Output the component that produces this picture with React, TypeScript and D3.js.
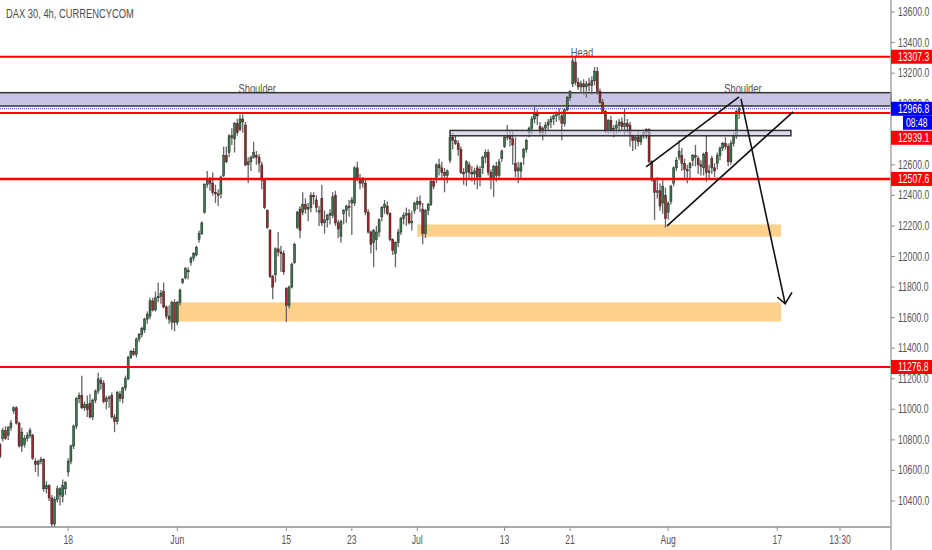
import * as d3 from "d3";

type Bar = [number, number, number, number]; // open, high, low, close

// 4h bars, one array per stretch between two time-axis labels
const barsBefore18: Bar[] = [
  [10770,10780,10680,10690],[10810,10880,10790,10860],[10860,10890,10800,10810],[10830,10890,10800,10880],[10880,10930,10860,10910],
  [10990,11020,10970,11010],[11010,11020,10900,10910],[10910,10920,10750,10760],[10760,10880,10720,10850],[10770,10830,10750,10810],
  [10810,10850,10790,10830],[10830,10880,10810,10860],[10830,10840,10670,10680],[10660,10680,10590,10640],[10640,10670,10560,10660],
  [10660,10690,10640,10670],[10670,10680,10460,10480],[10480,10530,10450,10500],[10500,10510,10400,10420],[10420,10440,10230,10250],
  [10250,10430,10230,10410],[10410,10500,10390,10480],[10440,10490,10370,10480],[10430,10540,10390,10500],[10480,10530,10440,10520],
];
const barsFrom18: Bar[] = [
  [10590,10680,10560,10660],[10660,10770,10640,10760],[10760,10900,10740,10890],[10890,11080,10870,11070],[11070,11110,11040,11090],
  [11090,11220,11000,11010],[11010,11050,10990,11030],[11030,11090,10950,11000],[11040,11100,10940,10950],[10950,11070,10930,11060],
  [11060,11130,11040,11120],[11120,11240,11100,11200],[11190,11210,11130,11170],[11170,11190,11040,11050],[11050,11090,11000,11070],
  [11070,11090,11010,11080],[11090,11110,10940,10950],[10950,10970,10850,10920],[10920,11120,10900,11110],[11100,11120,11050,11070],
  [11070,11150,11040,11140],[11140,11220,11120,11200],[11200,11350,11190,11340],[11340,11390,11330,11380],[11380,11400,11350,11360],
  [11360,11470,11340,11460],[11460,11500,11440,11490],[11490,11540,11470,11530],[11520,11600,11500,11590],[11590,11640,11560,11620],
  [11610,11730,11590,11710],[11710,11730,11640,11650],[11650,11770,11640,11730],[11730,11830,11700,11740],[11740,11780,11690,11760],
  [11770,11830,11660,11670],[11670,11680,11590,11610],[11610,11680,11560,11590],[11570,11710,11520,11700],[11700,11720,11510,11570],
];
const barsFromJun: Bar[] = [
  [11570,11710,11550,11700],[11700,11790,11680,11780],[11830,11860,11820,11850],[11860,11930,11850,11920],[11900,11930,11850,11910],
  [11960,12000,11940,11990],[11990,12030,11970,12020],[12010,12070,12000,12060],[12110,12170,12090,12150],[12150,12230,12140,12220],
  [12290,12480,12280,12470],[12470,12560,12450,12500],[12500,12520,12430,12480],[12480,12550,12400,12420],[12420,12470,12350,12410],
  [12410,12440,12330,12400],[12410,12530,12380,12520],[12530,12720,12520,12660],[12660,12720,12610,12620],[12680,12800,12650,12790],
  [12790,12840,12730,12780],[12770,12880,12680,12870],[12870,12900,12790,12810],[12830,12930,12820,12900],[12900,12930,12810,12880],
  [12860,12880,12590,12600],[12600,12650,12480,12620],[12620,12660,12560,12650],[12650,12750,12640,12680],[12660,12690,12600,12650],
  [12650,12670,12550,12610],[12600,12620,12440,12500],[12500,12510,12310,12320],[12300,12310,12180,12190],[12170,12180,11860,11870],
  [11870,11880,11720,11800],[11880,12060,11830,12050],[12050,12160,12000,12030],[12030,12070,11900,12020],[12020,12040,11880,11900],
];
const barsFrom15: Bar[] = [
  [11790,11800,11570,11680],[11680,11810,11660,11800],[11800,11960,11790,11950],[11960,12090,11950,12080],[12190,12300,12180,12290],
  [12310,12330,12120,12170],[12290,12420,12270,12340],[12340,12380,12280,12310],[12310,12350,12230,12320],[12320,12420,12290,12400],
  [12400,12420,12340,12390],[12370,12400,12290,12320],[12290,12330,12200,12300],[12380,12470,12200,12220],[12220,12300,12150,12240],
  [12240,12280,12190,12270],[12270,12310,12210,12280],[12270,12420,12250,12390],[12400,12430,12200,12220],[12220,12240,12120,12180],
  [12130,12240,12090,12230],[12280,12310,12210,12300],[12300,12340,12220,12330],[12330,12370,12260,12320],
];
const barsFrom23: Bar[] = [
  [12350,12390,12140,12370],[12350,12590,12330,12580],[12580,12620,12490,12510],[12510,12540,12440,12480],[12480,12520,12450,12500],
  [12480,12510,12270,12290],[12290,12310,12150,12160],[12160,12170,12020,12080],[12090,12180,11930,12170],[12110,12200,12040,12160],
  [12160,12250,12130,12240],[12260,12330,12230,12320],[12320,12370,12280,12340],[12330,12360,12270,12280],[12280,12290,12100,12110],
  [12110,12120,12010,12040],[12020,12100,11930,12090],[12090,12180,12060,12160],[12160,12260,12140,12250],[12250,12290,12210,12270],
  [12270,12320,12200,12280],[12280,12310,12210,12220],[12220,12300,12170,12230],[12300,12360,12280,12350],
];
const barsFromJul: Bar[] = [
  [12340,12390,12310,12360],[12360,12400,12290,12340],[12310,12350,12080,12150],[12150,12310,12120,12300],[12300,12350,12270,12340],
  [12340,12500,12330,12490],[12490,12510,12440,12460],[12520,12610,12480,12600],[12600,12640,12530,12580],[12580,12620,12500,12550],
  [12550,12580,12420,12530],[12530,12570,12480,12560],[12630,12790,12610,12780],[12780,12810,12700,12760],[12760,12790,12730,12740],
  [12740,12760,12660,12700],[12700,12720,12540,12550],[12550,12580,12470,12540],[12550,12630,12460,12620],[12600,12620,12500,12550],
  [12550,12590,12490,12540],[12540,12580,12470,12560],[12580,12600,12440,12520],[12520,12590,12460,12570],[12580,12660,12540,12650],
  [12650,12700,12610,12680],[12680,12700,12530,12550],[12550,12570,12440,12510],[12510,12600,12390,12590],[12590,12620,12490,12530],
  [12530,12640,12510,12620],[12640,12700,12620,12690],
];
const barsFrom13: Bar[] = [
  [12720,12790,12710,12780],[12780,12860,12760,12790],[12790,12830,12720,12770],[12770,12820,12600,12730],[12610,12780,12520,12560],
  [12560,12620,12480,12580],[12560,12620,12510,12610],[12650,12710,12600,12700],[12700,12770,12680,12760],[12810,12850,12780,12840],
  [12840,12920,12800,12900],[12900,12990,12870,12930],[12930,12960,12860,12920],[12850,12880,12790,12810],[12810,12850,12760,12840],
  [12840,12880,12790,12860],[12860,12900,12830,12880],[12880,12920,12840,12900],[12900,12930,12860,12920],[12920,12950,12880,12940],
  [12940,12970,12890,12930],[12920,12950,12760,12870],[12870,12970,12850,12960],[12960,13050,12950,13040],
];
const barsFrom21: Bar[] = [
  [13040,13090,13020,13080],[13130,13300,13110,13280],[13270,13310,13120,13140],[13140,13170,13090,13110],[13110,13150,13070,13130],
  [13130,13160,13060,13110],[13110,13150,13040,13130],[13130,13170,13080,13120],[13120,13180,13060,13150],[13150,13240,13120,13210],
  [13210,13240,13060,13080],[13080,13100,13000,13010],[13010,13030,12940,12950],[12950,12960,12810,12820],[12830,12900,12800,12890],
  [12890,12920,12810,12830],[12830,12860,12780,12840],[12840,12890,12800,12860],[12860,12900,12810,12880],[12880,12910,12830,12850],
  [12850,12970,12790,12870],[12870,12900,12810,12850],[12860,12880,12720,12790],[12790,12800,12690,12760],[12760,12790,12700,12780],
  [12780,12820,12720,12750],[12750,12800,12730,12790],[12790,12820,12770,12810],[12810,12840,12770,12830],[12830,12840,12610,12620],
  [12620,12630,12490,12500],[12500,12510,12240,12420],[12420,12520,12380,12430],[12430,12480,12300,12330],[12350,12500,12280,12460],
  [12400,12450,12190,12250],
];
const barsFromAug: Bar[] = [
  [12290,12360,12240,12350],[12360,12470,12340,12460],[12480,12590,12460,12580],[12580,12650,12560,12630],[12650,12760,12630,12690],
  [12660,12710,12560,12610],[12610,12640,12500,12570],[12570,12600,12480,12560],[12580,12620,12500,12610],[12630,12670,12590,12660],
  [12660,12730,12590,12650],[12640,12660,12540,12600],[12600,12630,12530,12590],[12580,12680,12530,12670],[12680,12790,12490,12550],
  [12550,12600,12500,12560],[12640,12660,12540,12580],[12580,12610,12520,12560],[12610,12680,12570,12660],[12660,12720,12630,12710],
  [12710,12750,12690,12740],[12740,12780,12700,12720],[12720,12740,12590,12620],[12620,12760,12600,12740],[12740,12810,12720,12790],
  [12790,12960,12770,12950],[12950,12990,12900,12966.8],
];

const segments: Bar[][] = [
  barsBefore18, barsFrom18, barsFromJun, barsFrom15, barsFrom23,
  barsFromJul, barsFrom13, barsFrom21, barsFromAug,
];
const bars = segments.flat();

// time axis: label -> bar number (last two are future space)
const timeLabels = ["18", "Jun", "15", "23", "Jul", "13", "21", "Aug", "17", "13:30"];
const timeTickBars = [25, 65, 105, 129, 153, 185, 209, 245, 285, 308];

const priceTicks = [
  13600, 13400, 13200, 13000, 12800, 12600, 12400, 12200, 12000, 11800,
  11600, 11400, 11200, 11000, 10800, 10600, 10400,
];
const hiddenPriceLabels = [12800]; // fully behind the red 12939.1 tag in the shot
const redLevels = [13307.3, 12939.1, 12507.6, 11276.8];
const lastPrice = 12966.8;
const countdown = "08:48";

// drawings, in [bar, price]
const purpleZoneTop = [13072, 12985];
const purpleZoneMid = { from: 165, to: 290, top: 12825, bottom: 12790 };
const orangeUpper = { from: 153, to: 286.4, top: 12210, bottom: 12130 };
const orangeLower = { from: 64.6, to: 286.4, top: 11700, bottom: 11575 };
const channelUpper: [number, number][] = [[236.9, 12587], [271, 13045]];
const channelLower: [number, number][] = [[244.6, 12200], [290.8, 12947]];
const arrowLine: [number, number][] = [[271.7, 13032], [287.9, 11690]];
const arrowHead: [number, number][] = [[285, 11735], [287.9, 11690], [290.4, 11765]];
const notes = [
  { label: "Shoulder", bar: 94.3, price: 13072 },
  { label: "Head", bar: 213.4, price: 13307 },
  { label: "Shoulder", bar: 272.4, price: 13072 },
];

const WIDTH = 932;
const HEIGHT = 550;
const AXIS_X = 891;
const AXIS_Y = 527;
const FONT = "'Liberation Sans', Arial, sans-serif";
const SQUEEZE = 0.72; // the shot is narrower than it is tall, glyphs come out condensed

const x = d3.scaleLinear().domain([0, 308]).range([0, 840]);
const y = d3.scaleLinear().domain([10400, 13600]).range([501, 12]);
const linePath = d3
  .line<[number, number]>()
  .x((d) => x(d[0]))
  .y((d) => y(d[1]));

function Label(props: {
  x: number;
  y: number;
  text: string;
  fill?: string;
  size?: number;
  anchor?: "start" | "middle";
}) {
  const { x: tx, y: ty, text, fill = "#555", size = 12, anchor = "start" } = props;
  return (
    <text
      transform={`translate(${tx},${ty}) scale(${SQUEEZE},1)`}
      textAnchor={anchor}
      fontSize={size}
      fill={fill}
    >
      {text}
    </text>
  );
}

function PriceTag({ price, fill, text }: { price: number; fill: string; text: string }) {
  const cy = y(price);
  return (
    <g>
      <rect x={AXIS_X} y={cy - 7} width={WIDTH - AXIS_X} height={14} fill={fill} />
      <Label x={898} y={cy + 4} text={text} fill="#fff" />
    </g>
  );
}

export default function App() {
  return (
    <svg
      width={WIDTH}
      height={HEIGHT}
      style={{ position: "absolute", left: 0, top: 0, background: "#fff", fontFamily: FONT }}
    >
      {/* notes sit under the zones, the zone edge cuts them */}
      {notes.map((n, i) => (
        <Label key={i} x={x(n.bar)} y={y(n.price)} text={n.label} anchor="middle" size={13} />
      ))}

      <rect x={-3} y={y(purpleZoneTop[0])} width={AXIS_X + 3} height={y(purpleZoneTop[1]) - y(purpleZoneTop[0])}
        fill="#cac4e4" stroke="#333" strokeWidth={1.5} />
      <rect x={x(orangeUpper.from)} y={y(orangeUpper.top)} width={x(orangeUpper.to) - x(orangeUpper.from)}
        height={y(orangeUpper.bottom) - y(orangeUpper.top)} fill="#fdd08c" />
      <rect x={x(orangeLower.from)} y={y(orangeLower.top)} width={x(orangeLower.to) - x(orangeLower.from)}
        height={y(orangeLower.bottom) - y(orangeLower.top)} fill="#fdd08c" />

      {/* candles */}
      <g>
        {bars.map(([o, h, l, c], i) => {
          const up = c >= o;
          const top = y(Math.max(o, c));
          const bottom = y(Math.min(o, c));
          return (
            <g key={i}>
              <line x1={x(i)} x2={x(i)} y1={y(h)} y2={y(l)} stroke="#666" strokeWidth={1.3} />
              <rect x={x(i) - 1} y={top} width={2} height={Math.max(bottom - top, 1)}
                fill={up ? "#3a7a48" : "#a0262a"} stroke="#222" strokeWidth={0.5} />
            </g>
          );
        })}
      </g>

      <rect x={x(purpleZoneMid.from)} y={y(purpleZoneMid.top)} width={x(purpleZoneMid.to) - x(purpleZoneMid.from)}
        height={y(purpleZoneMid.bottom) - y(purpleZoneMid.top)} fill="#cac4e4" fillOpacity={0.65} stroke="#333" strokeWidth={1.5} />

      {redLevels.map((p) => (
        <line key={p} x1={0} x2={AXIS_X} y1={y(p)} y2={y(p)} stroke="#ff0000"
          strokeWidth={p === 12507.6 ? 2.6 : 2} />
      ))}
      <line x1={0} x2={AXIS_X} y1={y(lastPrice)} y2={y(lastPrice)} stroke="#2a2aff" strokeWidth={1} strokeDasharray="1 1" />

      <g fill="none" stroke="#111" strokeWidth={1.6}>
        <path d={linePath(channelUpper)!} />
        <path d={linePath(channelLower)!} />
        <path d={linePath(arrowLine)!} />
        <path d={linePath(arrowHead)!} />
      </g>

      <Label x={6} y={18} text="DAX 30, 4h, CURRENCYCOM" size={13} fill="#4d4d4d" />

      {/* axes */}
      <line x1={0} x2={AXIS_X} y1={AXIS_Y} y2={AXIS_Y} stroke="#8a8f94" strokeWidth={1.5} />
      <line x1={AXIS_X} x2={AXIS_X} y1={0} y2={HEIGHT} stroke="#a4a8ac" strokeWidth={1.5} />
      {timeLabels.map((t, i) => {
        const tx = x(timeTickBars[i]);
        return (
          <g key={t}>
            <line x1={tx} x2={tx} y1={AXIS_Y} y2={AXIS_Y + 4} stroke="#8a8f94" />
            <Label x={tx} y={544} text={t} anchor="middle" />
          </g>
        );
      })}
      {priceTicks.map((p) => (
        <g key={p}>
          <line x1={AXIS_X} x2={AXIS_X + 4} y1={y(p)} y2={y(p)} stroke="#8a8f94" />
          {!hiddenPriceLabels.includes(p) && <Label x={898} y={y(p) + 4} text={p.toFixed(1)} />}
        </g>
      ))}

      {/* price tags on top of the axis */}
      <PriceTag price={13307.3} fill="#ff0000" text="13307.3" />
      <PriceTag price={lastPrice} fill="#0000ff" text={lastPrice.toFixed(1)} />
      <rect x={903} y={y(lastPrice) + 7} width={WIDTH - 903} height={14} fill="#0000ff" />
      <Label x={906} y={y(lastPrice) + 18} text={countdown} fill="#fff" />
      <PriceTag price={12777} fill="#ff0000" text="12939.1" />
      <PriceTag price={12507.6} fill="#ff0000" text="12507.6" />
      <PriceTag price={11276.8} fill="#ff0000" text="11276.8" />
    </svg>
  );
}
